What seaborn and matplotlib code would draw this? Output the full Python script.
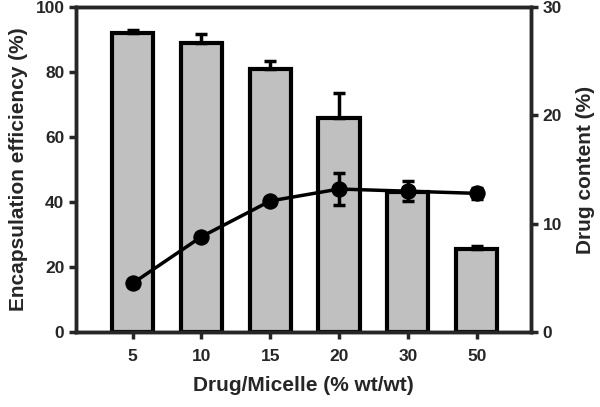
import numpy as np
import pandas as pd
import matplotlib
matplotlib.use("Agg")
import matplotlib.pyplot as plt
import seaborn as sns

# datos
ratio = ["5", "10", "15", "20", "30", "50"]
encap_eff = [92.0, 88.9, 80.9, 65.8, 43.1, 25.5]
encap_err = [1.0, 2.8, 2.5, 7.7, 1.5, 1.0]
drug_content = [4.5, 8.8, 12.1, 13.2, 13.0, 12.8]
drug_err = [0.3, 0.3, 0.3, 1.5, 0.9, 0.5]

sns.set_style("ticks")
plt.rcParams["font.family"] = ["Liberation Sans", "DejaVu Sans"]
plt.rcParams["font.weight"] = "bold"

df = pd.DataFrame({"ratio": ratio, "ee": encap_eff, "dc": drug_content})

fig, ax = plt.subplots(figsize=(6, 4.07), dpi=100)
sns.barplot(data=df, x="ratio", y="ee", order=ratio, color="#c0c0c0",
            edgecolor="black", linewidth=3, width=0.6, saturation=1,
            errorbar=None, ax=ax)
x = np.arange(len(ratio))
ax.errorbar(x, encap_eff, yerr=[np.zeros(len(x)), encap_err], fmt="none",
            ecolor="black", elinewidth=2.5, capsize=4, capthick=2.5, zorder=3)

ax2 = ax.twinx()
sns.lineplot(data=df, x="ratio", y="dc", color="black", linewidth=2.5,
             marker="o", markersize=11, markeredgecolor="black", ax=ax2)
ax2.errorbar(x, drug_content, yerr=drug_err, fmt="none", ecolor="black",
             elinewidth=2.5, capsize=4, capthick=2.5)

ax.set_xlim(-0.82, 5.79)
ax.set_ylim(0, 100)
ax2.set_ylim(0, 30)
ax.set_yticks([0, 20, 40, 60, 80, 100])
ax2.set_yticks([0, 10, 20, 30])

ax.set_xlabel("Drug/Micelle (% wt/wt)", fontsize=15, fontweight="bold", labelpad=9)
ax.set_ylabel("Encapsulation efficiency (%)", fontsize=15, fontweight="bold", labelpad=5)
ax2.set_ylabel("Drug content (%)", fontsize=15, fontweight="bold", labelpad=10)

for a in (ax, ax2):
    for s in a.spines.values():
        s.set_linewidth(2.5)
        s.set_visible(True)
    a.tick_params(width=2.5, length=5, labelsize=12.5, direction="out")
ax.tick_params(axis="x", pad=7)
for lab in ax.get_xticklabels() + ax.get_yticklabels() + ax2.get_yticklabels():
    lab.set_fontweight("bold")

fig.subplots_adjust(left=0.127, right=0.885, top=0.983, bottom=0.184)
fig.savefig("out.png", dpi=100)
